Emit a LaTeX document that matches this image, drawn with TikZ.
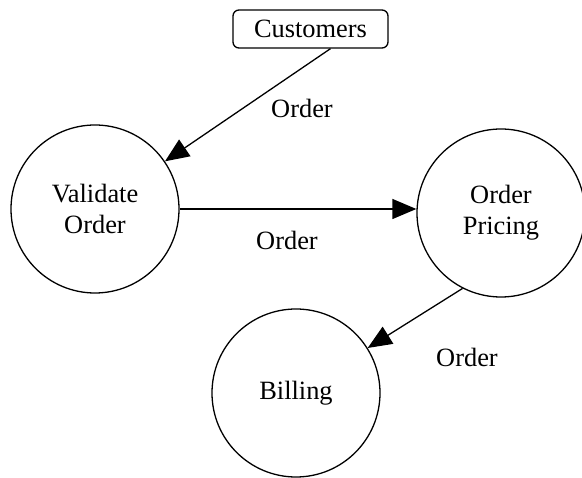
\documentclass[tikz,border=0pt]{standalone}
\usepackage{fontspec}
\setmainfont{Liberation Serif}
\usetikzlibrary{arrows.meta,positioning}

\tikzset{
  process/.style={draw, circle, line width=1.3pt, minimum size=168pt, inner sep=0pt, align=center},
  entity/.style={draw, rounded corners=6pt, line width=1.3pt, minimum width=155pt, minimum height=38pt, inner sep=0pt},
  flow/.style={-{Triangle[length=24pt,width=20pt]}, line width=1.3pt},
  flowlabel/.style={inner sep=0pt}
}

\begin{document}
\begin{tikzpicture}[x=1pt, y=-1pt, font=\fontsize{26.4}{31}\selectfont]
    \useasboundingbox (0,0) rectangle (582,478);

    % External entity
    \node[entity] (cust) at (310.5,29) {Customers};

    % Processes
    \node[process] (val) at (95,209) {Validate\\Order};
    \node[process] (pric) at (501,213) {Order\\Pricing};
    \node[process] (bill) at (296,393) {Billing};

    % Data flows
    \draw[flow] ([xshift=20pt]cust.south) -- (val);
    \draw[flow] (val.east) -- (val.east -| pric.west);
    \draw[flow] (pric.243) -- (bill);

    \node[flowlabel] (lbl1) at (302,108) {Order};
    \node[flowlabel] (lbl2) at (287,240) {Order};
    \node[flowlabel] (lbl3) at (467,357) {Order};
\end{tikzpicture}
\end{document}
